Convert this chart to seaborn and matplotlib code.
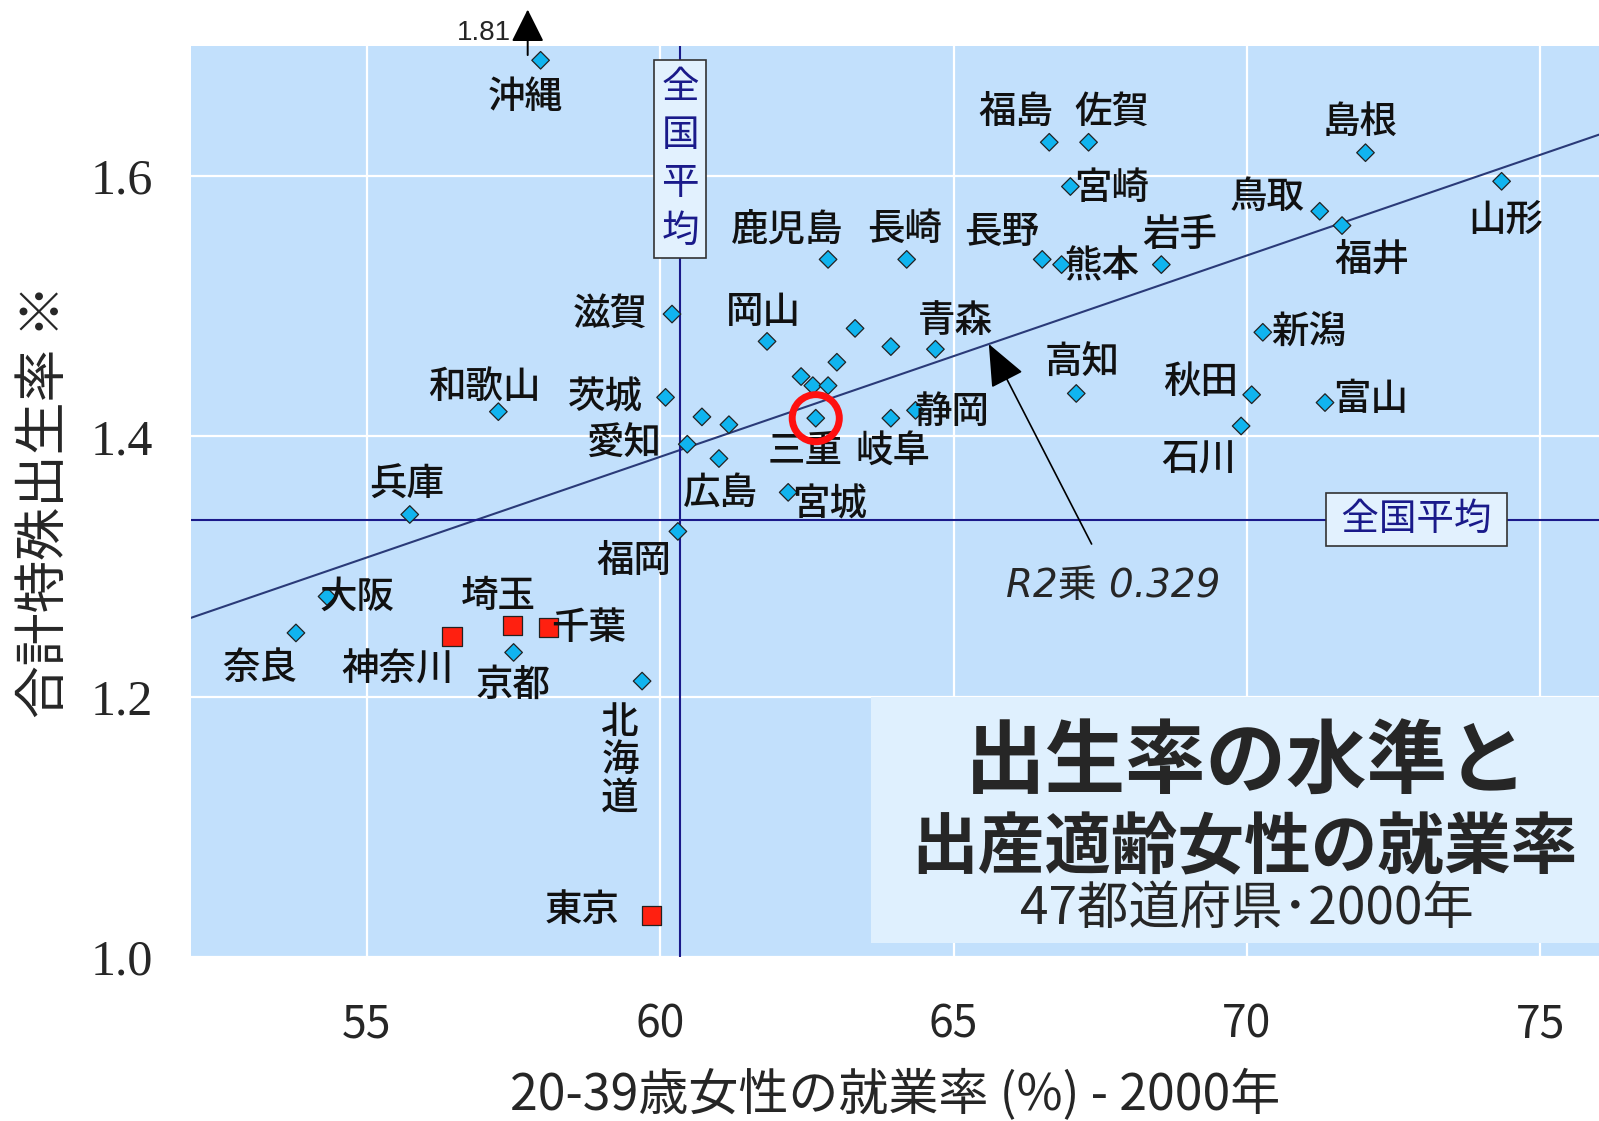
import numpy as np
import pandas as pd
import matplotlib
matplotlib.use("Agg")
import matplotlib.pyplot as plt
import seaborn as sns

# Employment rate of women aged 20-39 (%) and total fertility rate, 2000
prefs = ["沖縄", "滋賀", "和歌山", "茨城", "愛知", "兵庫", "大阪", "奈良", "京都",
         "北海道", "福岡", "岡山", "青森", "三重", "岐阜", "静岡", "広島", "宮城",
         "高知", "福島", "佐賀", "宮崎", "鹿児島", "長崎", "長野", "熊本", "岩手",
         "島根", "鳥取", "福井", "山形", "新潟", "秋田", "富山", "石川",
         "神奈川", "埼玉", "千葉", "東京",
         "", "", "", "", "", "", "", ""]
emp_rate = [57.96, 60.20, 57.24, 60.09, 60.46, 55.73, 54.32, 53.79, 57.50,
            59.69, 60.30, 61.82, 64.69, 62.65, 63.93, 64.35, 61.00, 62.18,
            67.09, 66.63, 67.30, 66.99, 62.86, 64.20, 66.51, 66.84, 68.54,
            72.02, 71.24, 71.62, 74.34, 70.27, 70.08, 71.33, 69.90,
            56.45, 57.48, 58.10, 59.85,
            63.32, 63.93, 63.01, 62.40, 62.60, 62.86, 60.71, 61.17]
tfr = [1.81, 1.494, 1.419, 1.430, 1.394, 1.340, 1.277, 1.249, 1.234,
       1.212, 1.327, 1.473, 1.467, 1.414, 1.414, 1.420, 1.383, 1.357,
       1.433, 1.626, 1.626, 1.592, 1.536, 1.536, 1.536, 1.532, 1.532,
       1.618, 1.573, 1.562, 1.596, 1.480, 1.432, 1.426, 1.408,
       1.246, 1.255, 1.253, 1.032,
       1.483, 1.469, 1.457, 1.446, 1.439, 1.439, 1.415, 1.409]
metro = ["神奈川", "埼玉", "千葉", "東京"]
avg_emp = 60.34
avg_tfr = 1.336
r2_text = "R2乗 0.329"

df = pd.DataFrame({"pref": prefs, "emp": emp_rate, "tfr": tfr})
df["group"] = np.where(df["pref"].isin(metro), "metro", "other")

# label offsets in pixels (dx, dy up)
offsets = {
    "沖縄": (-15, -37), "滋賀": (-62, 0), "和歌山": (-14, 25), "茨城": (-60, 0),
    "愛知": (-64, 0), "兵庫": (-3, 30), "大阪": (30, 0), "奈良": (-36, -35),
    "京都": (0, -32), "福岡": (-44, -30), "岡山": (-4, 29), "青森": (20, 28),
    "三重": (-11, -33), "岐阜": (2, -33), "静岡": (37, -2), "広島": (2, -34),
    "宮城": (41, -12), "高知": (6, 31), "福島": (-33, 30), "佐賀": (23, 31),
    "宮崎": (41, -1), "鹿児島": (-41, 30), "長崎": (-2, 30), "長野": (-41, 27),
    "熊本": (40, -2), "岩手": (18, 30), "島根": (-5, 31), "鳥取": (-53, 14),
    "福井": (30, -34), "山形": (4, -38), "新潟": (46, 1), "秋田": (-51, 13),
    "富山": (46, 4), "石川": (-42, -34), "神奈川": (-54, -33), "埼玉": (-14, 29),
    "千葉": (40, 0), "東京": (-69, 5), "北海道": (-22, -79),
}

sns.set_theme(style="whitegrid")
plt.rcParams["font.family"] = ["Noto Sans CJK JP", "DejaVu Sans"]

fig = plt.figure(figsize=(15.99, 11.21), dpi=100)
ax = fig.add_axes([0.1194, 0.1463, 0.8806, 0.8127])
ax.set_facecolor("#c2e0fc")
for s in ax.spines.values():
    s.set_visible(False)
ax.grid(True, color="white", linewidth=1.6)

xlim = (52, 76)
ylim = (1.0, 1.7)
ax.set_xlim(*xlim)
ax.set_ylim(*ylim)

# regression line
coef = np.polyfit(df["emp"], df["tfr"], 1)
xs = np.array(xlim)
ax.plot(xs, np.polyval(coef, xs), color="#2a3a78", linewidth=1.5, zorder=2)

# national average lines
ax.axvline(avg_emp, color="#1a1a8a", linewidth=1.5, zorder=2)
ax.axhline(avg_tfr, color="#1a1a8a", linewidth=1.5, zorder=2)

# points (Okinawa shown at top edge)
plot_df = df.copy()
plot_df["tfr_shown"] = np.minimum(plot_df["tfr"], ylim[1] - 0.011)
sns.scatterplot(data=plot_df, x="emp", y="tfr_shown", hue="group", style="group",
                markers={"other": "D", "metro": "s"},
                palette={"other": "#10b4ef", "metro": "#ff2010"},
                size="group", sizes={"other": 80, "metro": 190},
                edgecolor="#222222", linewidth=0.9, legend=False, ax=ax, zorder=5)

# labels
for _, r in plot_df.iterrows():
    if r["pref"] == "":
        continue
    dx, dy = offsets[r["pref"]]
    txt = r["pref"]
    if txt == "北海道":
        txt = "北\n海\n道"
    ax.annotate(txt, (r["emp"], r["tfr_shown"]), xytext=(dx, dy),
                textcoords="offset pixels", ha="center", va="center",
                fontsize=27, fontweight="medium", color="#111111",
                linespacing=1.0, zorder=6)

# circle around Mie
mie = plot_df[plot_df["pref"] == "三重"]
ax.scatter(mie["emp"], mie["tfr"], s=1150, facecolors="none",
           edgecolors="#ff1010", linewidths=5, zorder=7)

# Okinawa arrow
oki = plot_df[plot_df["pref"] == "沖縄"].iloc[0]
ax.annotate("", xy=(oki["emp"] - 0.22, 1.728), xytext=(oki["emp"] - 0.22, 1.693),
            arrowprops=dict(arrowstyle="-|>,head_width=0.85,head_length=1.7",
                            color="black", lw=1.4, shrinkA=0, shrinkB=0),
            annotation_clip=False)
ax.annotate(f"{oki['tfr']:.2f}", (oki["emp"] - 0.22, 1.7), xytext=(-17, 13),
            textcoords="offset pixels", ha="right", va="center",
            fontsize=20, family="Liberation Sans", annotation_clip=False)

# R2 annotation
arrow_x = 65.6
ax.annotate(r2_text, xy=(arrow_x, np.polyval(coef, arrow_x)),
            xytext=(67.72, 1.285), ha="center", va="center",
            fontsize=28, style="italic", family=["DejaVu Sans", "Noto Sans CJK JP"],
            arrowprops=dict(arrowstyle="-|>,head_width=0.4,head_length=0.95",
                            color="black", lw=1.2, shrinkA=16, shrinkB=0),
            zorder=8)

# national average boxes
vbox = dict(boxstyle="square,pad=0.2", facecolor="#e2f1fe", edgecolor="#333333", lw=1.2)
hbox = dict(boxstyle="square,pad=0.18", facecolor="#e2f1fe", edgecolor="#333333", lw=1.2)
ax.text(avg_emp, 1.613, "全\n国\n平\n均", ha="center", va="center", fontsize=27,
        color="#1a1a8a", linespacing=1.3, bbox=vbox, zorder=8)
ax.text(72.89, avg_tfr, " 全国平均 ", ha="center", va="center", fontsize=27,
        color="#1a1a8a", bbox=hbox, zorder=8)

# title box
ax.add_patch(plt.Rectangle((0.483, 0.015), 0.52, 0.27, transform=ax.transAxes,
                           facecolor="#dff0fe", edgecolor="none", zorder=3))
ax.text(0.75, 0.213, "出生率の水準と", transform=ax.transAxes, ha="center",
        va="center", fontsize=58, fontweight="bold", zorder=4)
ax.text(0.748, 0.119, "出産適齢女性の就業率", transform=ax.transAxes, ha="center",
        va="center", fontsize=48, fontweight="bold", zorder=4)
ax.text(0.75, 0.052, "47都道府県･2000年", transform=ax.transAxes, ha="center",
        va="center", fontsize=37, zorder=4)

# axes text
ax.set_xticks([55, 60, 65, 70, 75])
ax.set_yticks([1.0, 1.2, 1.4, 1.6])
ax.set_yticklabels(["1.0", "1.2", "1.4", "1.6"], family="Liberation Serif", fontsize=36)
ax.set_xticklabels(["55", "60", "65", "70", "75"], fontsize=32)
ax.tick_params(axis="y", pad=27, length=0)
ax.tick_params(axis="x", pad=32, length=0)
ax.set_xlabel("20-39歳女性の就業率 (%) - 2000年", fontsize=36, labelpad=16)
ax.set_ylabel("合計特殊出生率 ※", fontsize=38, labelpad=14)

fig.savefig("out.png", dpi=100)
